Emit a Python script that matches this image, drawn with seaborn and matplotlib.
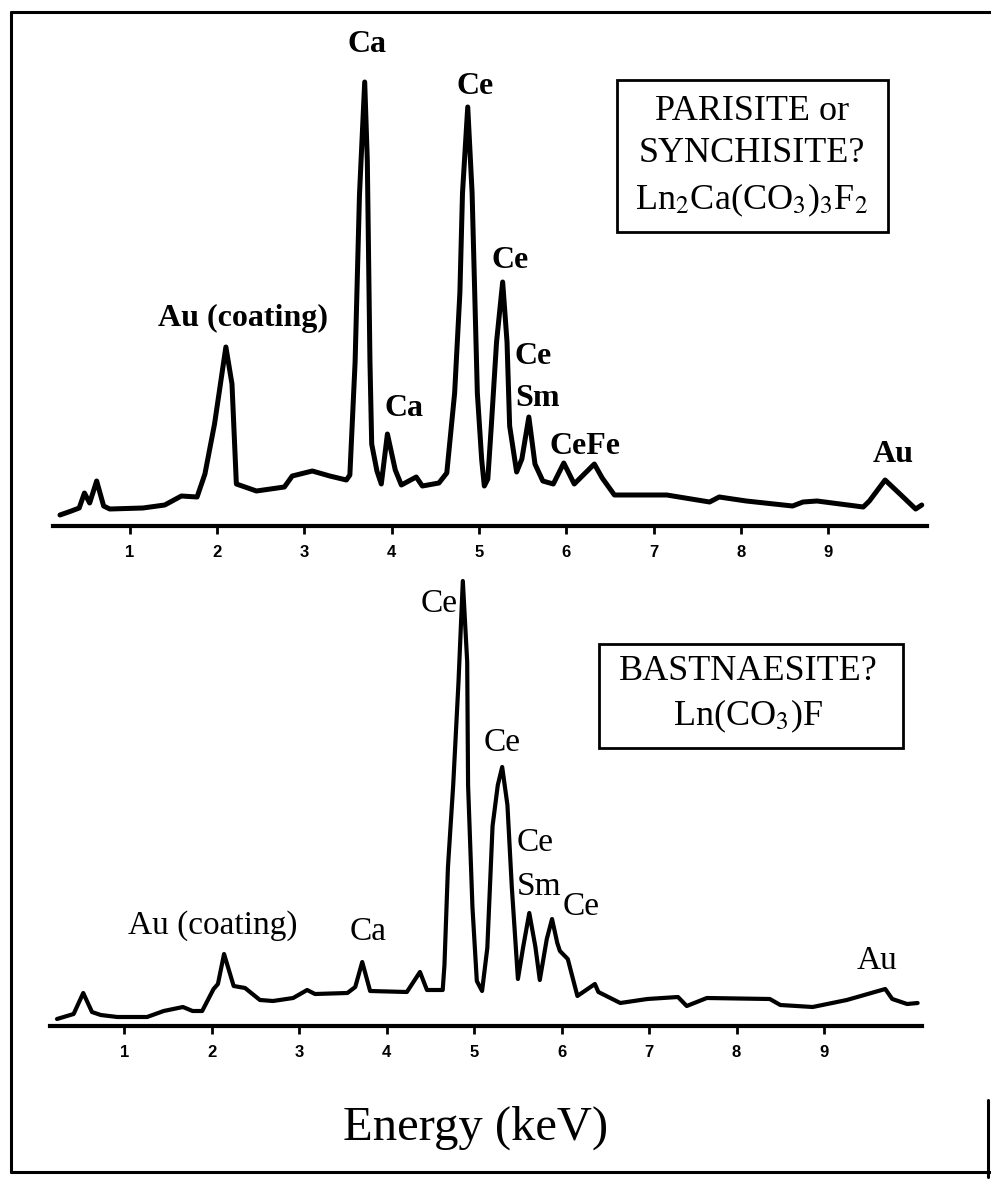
import numpy as np
import pandas as pd
import matplotlib as mpl
import matplotlib.pyplot as plt
import seaborn as sns
from matplotlib.lines import Line2D
from matplotlib.patches import Rectangle


## Данные: энергия (кэВ) и интенсивность (усл. ед.)

# верхний спектр - паризит / синхизит
top_kev = [0.20, 0.33, 0.42, 0.48, 0.54, 0.62, 0.70, 0.77, 1.15, 1.40,
           1.59, 1.77, 1.86, 1.97, 2.10, 2.17, 2.22, 2.45, 2.77, 2.86,
           3.09, 3.29, 3.48, 3.52, 3.58, 3.63, 3.69, 3.72, 3.75, 3.77,
           3.83, 3.88, 3.95, 4.04, 4.11, 4.28, 4.35, 4.54, 4.63, 4.72,
           4.78, 4.81, 4.87, 4.92, 4.95, 4.98, 5.03, 5.06, 5.10, 5.14,
           5.20, 5.27, 5.32, 5.35, 5.43, 5.49, 5.57, 5.64, 5.73, 5.85,
           5.97, 6.09, 6.32, 6.41, 6.55, 7.15, 7.64, 7.75, 8.06, 8.59,
           8.71, 8.87, 9.40, 9.47, 9.65, 9.82, 10.00, 10.07]
top_counts = [11, 15, 18, 33, 23, 45, 20, 17, 18, 21,
              30, 29, 52, 102, 179, 142, 42, 35, 39, 50,
              55, 50, 46, 51, 164, 331, 444, 365, 165, 82,
              55, 42, 92, 56, 41, 49, 40, 43, 53, 133,
              233, 333, 419, 333, 233, 133, 66, 40, 47, 100,
              184, 244, 184, 100, 54, 67, 109, 62, 45, 42,
              63, 42, 62, 48, 31, 31, 24, 29, 25, 20,
              24, 25, 19, 25, 46, 32, 17, 21]

# нижний спектр - бастнезит
bot_kev = [0.23, 0.42, 0.53, 0.63, 0.73, 0.92, 1.26, 1.45, 1.67, 1.78,
           1.89, 2.02, 2.07, 2.14, 2.25, 2.38, 2.55, 2.70, 2.93, 3.09,
           3.18, 3.55, 3.64, 3.72, 3.81, 4.23, 4.38, 4.46, 4.64, 4.66,
           4.70, 4.76, 4.82, 4.87, 4.92, 4.93, 4.98, 5.03, 5.09, 5.15,
           5.21, 5.27, 5.32, 5.38, 5.43, 5.50, 5.56, 5.63, 5.70, 5.75,
           5.83, 5.89, 5.95, 5.98, 6.07, 6.18, 6.38, 6.42, 6.67, 6.98,
           7.33, 7.43, 7.66, 8.38, 8.50, 8.87, 9.26, 9.70, 9.78, 9.95,
           10.07]
bot_counts = [7, 12, 33, 14, 11, 9, 9, 15, 19, 15,
              15, 37, 42, 72, 40, 38, 26, 25, 28, 36,
              32, 33, 39, 64, 35, 34, 54, 36, 36, 61,
              159, 241, 343, 445, 364, 241, 119, 45, 35, 78,
              200, 241, 259, 221, 139, 47, 79, 113, 79, 46,
              87, 107, 83, 75, 67, 30, 42, 34, 23, 27,
              29, 20, 28, 27, 21, 19, 26, 37, 27, 22,
              23]

ticks = [1, 2, 3, 4, 5, 6, 7, 8, 9]


sns.set_style('white')
plt.rcParams['font.family'] = ['Liberation Serif', 'DejaVu Serif']
plt.rcParams['mathtext.fontset'] = 'stix'
plt.rcParams['text.color'] = 'black'

W, H = 991, 1180
fig = plt.figure(figsize=(W / 100, H / 100), dpi=100)

ax1 = fig.add_axes([53 / W, 1 - 526 / H, 874 / W, 466 / H])
ax2 = fig.add_axes([50 / W, 1 - 1026 / H, 872 / W, 466 / H])

top = pd.DataFrame({'keV': top_kev, 'counts': top_counts})
bot = pd.DataFrame({'keV': bot_kev, 'counts': bot_counts})

sns.lineplot(data=top, x='keV', y='counts', ax=ax1, color='black', lw=3.6,
             estimator=None, sort=False, solid_joinstyle='round',
             solid_capstyle='round', clip_on=False)
sns.lineplot(data=bot, x='keV', y='counts', ax=ax2, color='black', lw=3.0,
             estimator=None, sort=False, solid_joinstyle='round',
             solid_capstyle='round', clip_on=False)

for ax, xl in [(ax1, (0.12, 10.13)), (ax2, (0.15, 10.12))]:
    ax.set_xlim(*xl)
    ax.set_ylim(0, 466)
    ax.set_xticks(ticks)
    ax.set_xticklabels(ticks, fontfamily='Liberation Sans',
                       fontweight='bold', fontsize=12, color='black')
    ax.set_yticks([])
    ax.set_xlabel('')
    ax.set_ylabel('')
    sns.despine(ax=ax, left=True)
    ax.spines['bottom'].set_linewidth(3)
    ax.spines['bottom'].set_color('black')
    ax.tick_params(axis='x', direction='out', length=6, width=2, pad=8,
                   bottom=True, colors='black')
    ax.patch.set_alpha(0)

## Подписи пиков
top_notes = [('Ca', 3.72, 481, 'center'), ('Ce', 4.95, 440, 'center'),
             ('Au (coating)', 2.30, 208, 'center'), ('Ca', 4.14, 117, 'center'),
             ('Ce', 5.36, 265, 'center'), ('Ce', 5.41, 170, 'left'),
             ('Sm', 5.41, 128, 'left'), ('CeFe', 5.81, 79, 'left'),
             ('Au', 9.74, 72, 'center')]
for t, x, y, ha in top_notes:
    ax1.text(x, y, t, ha=ha, va='center', fontsize=23, fontweight='bold',
             color='black')

bot_notes = [('Ce', 4.81, 422, 'right'), ('Ce', 5.32, 283, 'center'),
             ('Ce', 5.49, 183, 'left'), ('Sm', 5.49, 139, 'left'),
             ('Ce', 6.01, 119, 'left'), ('Au (coating)', 2.01, 100, 'center'),
             ('Ca', 3.79, 94, 'center'), ('Au', 9.61, 65, 'center')]
for t, x, y, ha in bot_notes:
    ax2.text(x, y, t, ha=ha, va='center', fontsize=24, color='black')

## Рамки с названиями минералов
fig.add_artist(Rectangle((617 / W, 1 - 232 / H), 271 / W, 152 / H,
                         transform=fig.transFigure, fill=False, lw=2, ec='black'))
fig.text(752 / W, 1 - 111 / H, 'PARISITE or', ha='center', va='center', fontsize=26)
fig.text(752 / W, 1 - 154 / H, 'SYNCHISITE?', ha='center', va='center', fontsize=26)
fig.text(752 / W, 1 - 200 / H, r'Ln$_2$Ca(CO$_3$)$_3$F$_2$', ha='center',
         va='center', fontsize=26)

fig.add_artist(Rectangle((599 / W, 1 - 748 / H), 304 / W, 104 / H,
                         transform=fig.transFigure, fill=False, lw=2, ec='black'))
fig.text(748 / W, 1 - 672 / H, 'BASTNAESITE?', ha='center', va='center', fontsize=26)
fig.text(748 / W, 1 - 716 / H, r'Ln(CO$_3$)F', ha='center', va='center', fontsize=26)

fig.text(476 / W, 1 - 1128 / H, 'Energy (keV)', ha='center', va='center', fontsize=35)

## Внешняя рамка
for (x1, y1), (x2, y2) in [((11, 12), (991, 12)), ((11, 12), (11, 1172)),
                           ((11, 1172), (991, 1172)), ((988, 1100), (988, 1177))]:
    fig.add_artist(Line2D([x1 / W, x2 / W], [1 - y1 / H, 1 - y2 / H],
                          transform=fig.transFigure, color='black', lw=2.2))

fig.savefig('out.png', dpi=100)
